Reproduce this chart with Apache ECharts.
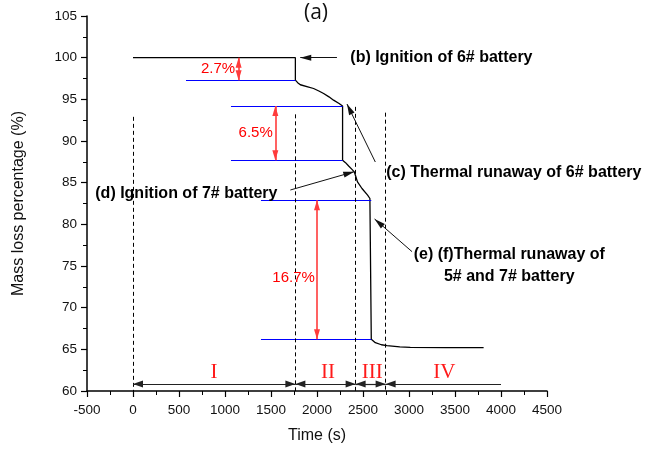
<!DOCTYPE html>
<html>
<head>
<meta charset="utf-8">
<script src="https://cdn.jsdelivr.net/npm/echarts@6/dist/echarts.min.js"></script>
<style>
  html, body { margin: 0; padding: 0; background: #fff; }
  #chart { width: 646px; height: 450px; }
</style>
</head>
<body>
<div id="chart"></div>
<script>
// Mass-loss curve of the battery pack (time in s, remaining mass in %)
const timeS = [0, 1765, 1765, 1790, 1819, 1900, 1963, 2020, 2072, 2130, 2180, 2240, 2278,
  2278, 2310, 2344, 2380, 2405, 2420, 2440, 2489, 2550, 2575, 2590,
  2590, 2600, 2634, 2700, 2761, 2900, 3014, 3400, 3811];
const massPct = [100, 100, 97.3, 97.0, 96.75, 96.5, 96.3, 96.0, 95.7, 95.3, 94.9, 94.5, 94.2,
  87.7, 87.4, 87.0, 86.6, 86.3, 85.8, 85.1, 84.3, 83.5, 83.1, 82.9,
  66.2, 66.0, 65.8, 65.55, 65.44, 65.3, 65.24, 65.2, 65.2];

// Reference levels before/after each mass drop
const levelStart = [576, 1065, 1065, 1391, 1391];
const levelEnd = [1765, 2278, 2278, 2590, 2590];
const levelValue = [97.3, 94.2, 87.7, 82.9, 66.2];

// Mass drops marked with double arrows
const lossTime = [1148, 1547, 2000];
const lossTop = [100, 94.2, 82.9];
const lossBottom = [97.3, 87.7, 66.2];
const lossText = ['2.7%', '6.5%', '16.7%'];

// Stage boundaries and names
const stageBounds = [0, 1765, 2420, 2746, 4000];
const stageNames = ['I', 'II', 'III', 'IV'];
const stageLine = 60.84;
const boundaryTop = [92.9, 93.2, 94.1, 93.4];

// Axis ticks
const xTicks = { min: -500, max: 4500, step: 500 };
const yTicks = { min: 60, max: 105, step: 5 };

// Event notes: text, anchor [t, mass], pointer from/to
const notes = [
  { text: '(b) Ignition of 6# battery', at: [2362, 100.05], from: [2217, 100], to: [1818, 100] },
  { text: '(c) Thermal runaway of 6# battery', at: [2753, 86.2], from: [2634, 87.48], to: [2326, 94.44] },
  { text: '(d) Ignition of 7# battery', at: [-410, 83.65], from: [1710, 84.12], to: [2405, 86.32] },
  { text: '(e) (f)Thermal runaway of\n5# and 7# battery', at: [4090, 75.0], from: [3033, 76.72], to: [2626, 80.64] }
];
const lossLabelAt = [[924, 98.64], [1333, 90.96], [1746, 73.52]];
const stageLabelAt = [880, 2120, 2600, 3385];
const stageLabelY = 62.2;

const chart = echarts.init(document.getElementById('chart'), null, { renderer: 'canvas' });

const curve = timeS.map((t, i) => [t, massPct[i]]);

// arrow heads drawn with their tip on the end point
const tipHead = { symbol: 'triangle', symbolOffset: [0, '50%'] };
const noHead = { symbol: 'none' };

const levelLines = levelValue.map((v, i) => [
  Object.assign({ coord: [levelStart[i], v] }, noHead),
  Object.assign({ coord: [levelEnd[i], v] }, noHead)
]);

const boundaryLines = stageBounds.slice(0, 4).map((t, i) => [
  Object.assign({ coord: [t, boundaryTop[i]] }, noHead),
  Object.assign({ coord: [t, yTicks.min] }, noHead)
]);

const lossArrows = lossTime.map((t, i) => [
  Object.assign({ coord: [t, lossTop[i]] }, tipHead),
  Object.assign({ coord: [t, lossBottom[i]] }, tipHead)
]);

const stageArrows = stageNames.map((n, i) => [
  Object.assign({ coord: [stageBounds[i], stageLine] }, tipHead),
  Object.assign({ coord: [stageBounds[i + 1], stageLine] }, i === stageNames.length - 1 ? noHead : tipHead)
]);

const pointerArrows = notes.map(n => [
  Object.assign({ coord: n.from }, noHead),
  Object.assign({ coord: n.to }, tipHead)
]);

const noteFont = { fontFamily: 'Liberation Sans', fontWeight: 'bold', fontSize: 16, color: '#000' };

const textItems = [];
notes.forEach((n) => {
  const multi = n.text.indexOf('\n') >= 0;
  textItems.push({
    value: n.at,
    label: Object.assign({
      show: true, formatter: n.text,
      position: multi ? 'inside' : 'right', distance: 0,
      align: multi ? 'center' : 'left', lineHeight: 22
    }, noteFont)
  });
});
lossText.forEach((s, i) => {
  textItems.push({
    value: lossLabelAt[i],
    label: { show: true, formatter: s, position: 'inside', fontFamily: 'Liberation Sans', fontSize: 15, color: '#ff0000' }
  });
});
stageNames.forEach((s, i) => {
  textItems.push({
    value: [stageLabelAt[i], stageLabelY],
    label: { show: true, formatter: s, position: 'inside', fontFamily: 'Liberation Serif', fontSize: 21, color: '#ff1a1a' }
  });
});

const axisText = { fontFamily: 'Liberation Sans', fontSize: 13.5, color: '#111', formatter: v => String(v) };

chart.setOption({
  animation: false,
  backgroundColor: '#fff',
  title: {
    text: '(a)', left: 299, top: -2,
    textStyle: { fontFamily: 'Open Sans', fontWeight: 'normal', fontSize: 21, color: '#111' }
  },
  grid: { left: 87, right: 99, top: 16, bottom: 59, containLabel: false },
  xAxis: {
    type: 'value', min: xTicks.min, max: xTicks.max, interval: xTicks.step,
    name: 'Time (s)', nameLocation: 'middle', nameGap: 37,
    nameTextStyle: { fontFamily: 'Liberation Sans', fontSize: 16, color: '#111' },
    axisLine: { onZero: false, lineStyle: { color: '#000', width: 1.5 } },
    axisTick: { show: true, inside: false, length: 6, lineStyle: { color: '#000', width: 1.2 } },
    minorTick: { show: true, splitNumber: 2, length: 4, lineStyle: { color: '#000', width: 1 } },
    axisLabel: Object.assign({ margin: 12 }, axisText),
    splitLine: { show: false }
  },
  yAxis: {
    type: 'value', min: yTicks.min, max: yTicks.max, interval: yTicks.step,
    name: 'Mass loss percentage (%)', nameLocation: 'middle', nameGap: 60, nameRotate: 90,
    nameTextStyle: { fontFamily: 'Liberation Sans', fontSize: 16, color: '#111' },
    axisLine: { onZero: false, lineStyle: { color: '#000', width: 1.5 } },
    axisTick: { show: true, inside: false, length: 6, lineStyle: { color: '#000', width: 1.2 } },
    minorTick: { show: true, splitNumber: 2, length: 4, lineStyle: { color: '#000', width: 1 } },
    axisLabel: Object.assign({ margin: 10 }, axisText),
    splitLine: { show: false }
  },
  series: [
    {
      name: 'levels', type: 'line', data: [], silent: true,
      markLine: {
        silent: true, symbol: 'none', label: { show: false },
        lineStyle: { color: '#0000ff', width: 1.2, type: 'solid' },
        emphasis: { disabled: true },
        data: levelLines
      }
    },
    {
      name: 'boundaries', type: 'line', data: [], silent: true,
      markLine: {
        silent: true, symbol: 'none', label: { show: false },
        lineStyle: { color: '#000', width: 1, type: [4, 3] },
        emphasis: { disabled: true },
        data: boundaryLines
      }
    },
    {
      name: 'mass', type: 'line', data: curve, showSymbol: false, silent: true,
      lineStyle: { color: '#000', width: 1.3 }, z: 3
    },
    {
      name: 'losses', type: 'line', data: [], silent: true,
      markLine: {
        silent: true, symbolSize: [6, 10], label: { show: false },
        lineStyle: { color: '#ff3b3b', width: 1.6, type: 'solid' },
        emphasis: { disabled: true },
        data: lossArrows
      }
    },
    {
      name: 'stages', type: 'line', data: [], silent: true,
      markLine: {
        silent: true, symbolSize: [7, 10], label: { show: false },
        lineStyle: { color: '#222', width: 1.2, type: 'solid' },
        emphasis: { disabled: true },
        data: stageArrows
      }
    },
    {
      name: 'pointers', type: 'line', data: [], silent: true,
      markLine: {
        silent: true, symbolSize: [6, 11], label: { show: false },
        lineStyle: { color: '#111', width: 1, type: 'solid' },
        emphasis: { disabled: true },
        data: pointerArrows
      }
    },
    {
      name: 'notes', type: 'scatter', symbolSize: 0, silent: true, clip: false, z: 5,
      itemStyle: { opacity: 1 },
      data: textItems
    }
  ]
});
</script>
</body>
</html>
